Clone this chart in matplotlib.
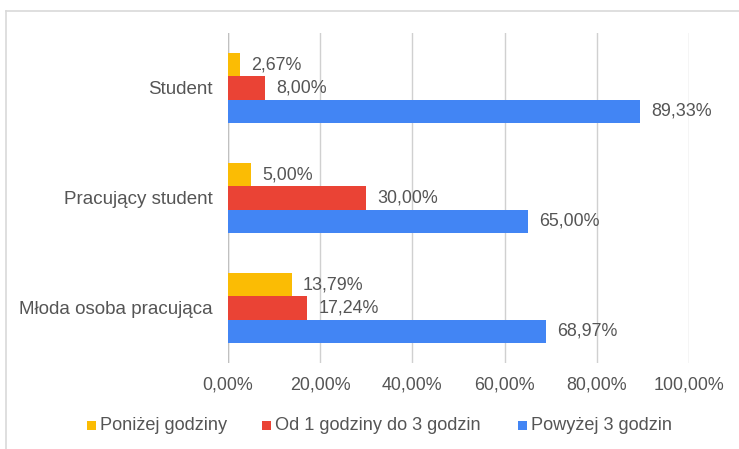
import matplotlib.pyplot as plt
from matplotlib.patches import Rectangle
from matplotlib.lines import Line2D

plt.rcParams['font.family'] = ['Liberation Sans', 'DejaVu Sans']

categories = ['Student', 'Pracujący student', 'Młoda osoba pracująca']
series_names = ['Poniżej godziny', 'Od 1 godziny do 3 godzin', 'Powyżej 3 godzin']
below_hour = [2.67, 5.00, 13.79]
one_to_three = [8.00, 30.00, 17.24]
above_three = [89.33, 65.00, 68.97]
colors = ['#fbbc04', '#ea4335', '#4285f4']
ticks = [0, 20, 40, 60, 80, 100]

W, H = 739, 449
fig = plt.figure(figsize=(W / 100, H / 100), dpi=100)

# outer frame (top and left edges)
fig.add_artist(Line2D([6 / W, 1], [1 - 11 / H, 1 - 11 / H], color='#d9d9d9', lw=1.2))
fig.add_artist(Line2D([6 / W, 6 / W], [1 - 11 / H, 0], color='#d9d9d9', lw=1.2))

ax = fig.add_axes([228 / W, 1 - 363 / H, (689 - 228) / W, (363 - 33) / H])

text_color = '#555555'
fs = 12.9
bar_h = 0.21
offsets = [-bar_h, 0, bar_h]
for vals, off, col in zip([below_hour, one_to_three, above_three], offsets, colors):
    pos = [i + off for i in range(len(categories))]
    ax.barh(pos, vals, height=bar_h, color=col, zorder=3)
    for p, v in zip(pos, vals):
        ax.text(v + 2.4, p, f'{v:.2f}%'.replace('.', ','), va='center', ha='left',
                fontsize=fs, color=text_color, zorder=4)

ax.set_xlim(0, 100)
ax.set_ylim(2.5, -0.5)
ax.set_xticks(ticks)
ax.set_xticklabels([f'{t:.2f}%'.replace('.', ',') for t in ticks])
ax.set_yticks(range(len(categories)))
ax.set_yticklabels(categories, fontsize=13.5)
ax.tick_params(axis='both', length=0, labelcolor=text_color)
ax.tick_params(axis='x', pad=10, labelsize=fs)
ax.tick_params(axis='y', pad=11)
ax.grid(axis='x', color='#d0d0d0', lw=1, zorder=0)
ax.axvline(0, color='#c0c0c0', lw=1, zorder=2)
for s in ax.spines.values():
    s.set_visible(False)

# legend row: square marker followed by its label
legend_y = 425
marker_x = [87, 262, 518]
for mx, name, col in zip(marker_x, series_names, colors):
    fig.add_artist(Rectangle((mx / W, 1 - (legend_y + 4.5) / H), 9 / W, 9 / H,
                             facecolor=col, edgecolor='none', transform=fig.transFigure))
    fig.text((mx + 13) / W, 1 - legend_y / H, name, va='center', ha='left',
             fontsize=13.1, color=text_color)

fig.savefig('out.png', dpi=100)
